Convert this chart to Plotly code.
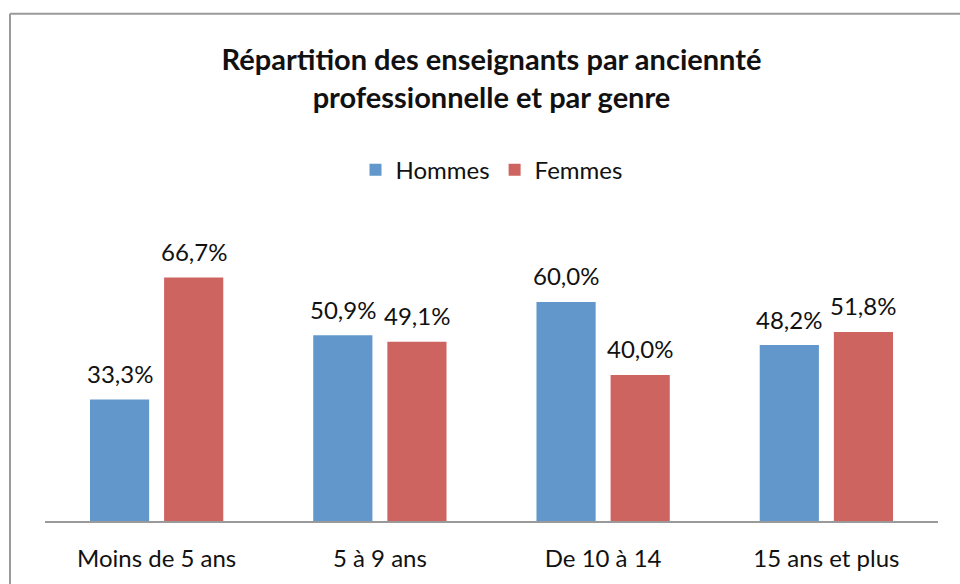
import plotly.graph_objects as go

categories = ["Moins de 5 ans", "5 à 9 ans", "De 10 à 14", "15 ans et plus"]
hommes = [33.3, 50.9, 60.0, 48.2]
femmes = [66.7, 49.1, 40.0, 51.8]
hommes_labels = ["33,3%", "50,9%", "60,0%", "48,2%"]
femmes_labels = ["66,7%", "49,1%", "40,0%", "51,8%"]

FONT = "Lato"
BLUE = "#6197CB"
RED = "#CE645F"
TXT = "#111111"
BORDER = "#9a9a9a"

fig = go.Figure()
fig.add_trace(go.Bar(
    x=categories, y=hommes, name="Hommes", marker_color=BLUE,
    marker_line_width=0, width=0.265, offset=-0.2985,
))
fig.add_trace(go.Bar(
    x=categories, y=femmes, name="Femmes", marker_color=RED,
    marker_line_width=0, width=0.265, offset=0.0335,
))

annotations = []
for cat, v, lab in zip(categories, hommes, hommes_labels):
    annotations.append(dict(x=cat, y=v, text=lab, showarrow=False, xref="x", yref="y",
                            xshift=-37, yshift=26, yanchor="middle",
                            font=dict(size=24, family=FONT, color=TXT)))
for cat, v, lab in zip(categories, femmes, femmes_labels):
    annotations.append(dict(x=cat, y=v, text=lab, showarrow=False, xref="x", yref="y",
                            xshift=37, yshift=26, yanchor="middle",
                            font=dict(size=24, family=FONT, color=TXT)))

fig.update_layout(
    width=960, height=584,
    margin=dict(l=45, r=22, t=200, b=61),
    paper_bgcolor="white", plot_bgcolor="white",
    barmode="overlay",
    font=dict(family=FONT, size=24, color=TXT),
    title=dict(
        text="<b>Répartition des enseignants par anciennté<br>professionnelle et par genre</b>",
        x=0.5, xref="paper", xanchor="center",
        y=0.88, yref="container", yanchor="middle",
        font=dict(size=29, family=FONT, color=TXT),
    ),
    legend=dict(
        orientation="h", x=0.5, xanchor="center", y=1.093, yanchor="middle",
        xref="paper", yref="paper",
        font=dict(size=24, family=FONT, color=TXT),
        itemwidth=30, traceorder="normal",
    ),
    showlegend=True,
    annotations=annotations,
    shapes=[
        dict(type="line", xref="paper", yref="paper",
             x0=-0.0392, x1=1.1, y0=1.5805, y1=1.5805,
             line=dict(color=BORDER, width=2), layer="below"),
        dict(type="line", xref="paper", yref="paper",
             x0=-0.0392, x1=-0.0392, y0=-0.4, y1=1.5805,
             line=dict(color=BORDER, width=2), layer="below"),
    ],
)
fig.update_xaxes(
    showline=True, linecolor=BORDER, linewidth=2, ticks="",
    showgrid=False, tickfont=dict(size=24, family=FONT, color=TXT),
    ticklabelstandoff=15,
)
fig.update_yaxes(range=[0, 87.94], visible=False, showgrid=False)

fig.write_html(
    "out.html", config={"displayModeBar": False},
    post_script=(
        "document.body.style.margin='0';"
        "document.body.style.overflow='hidden';"
        "document.documentElement.style.overflow='hidden';"
    ),
)
